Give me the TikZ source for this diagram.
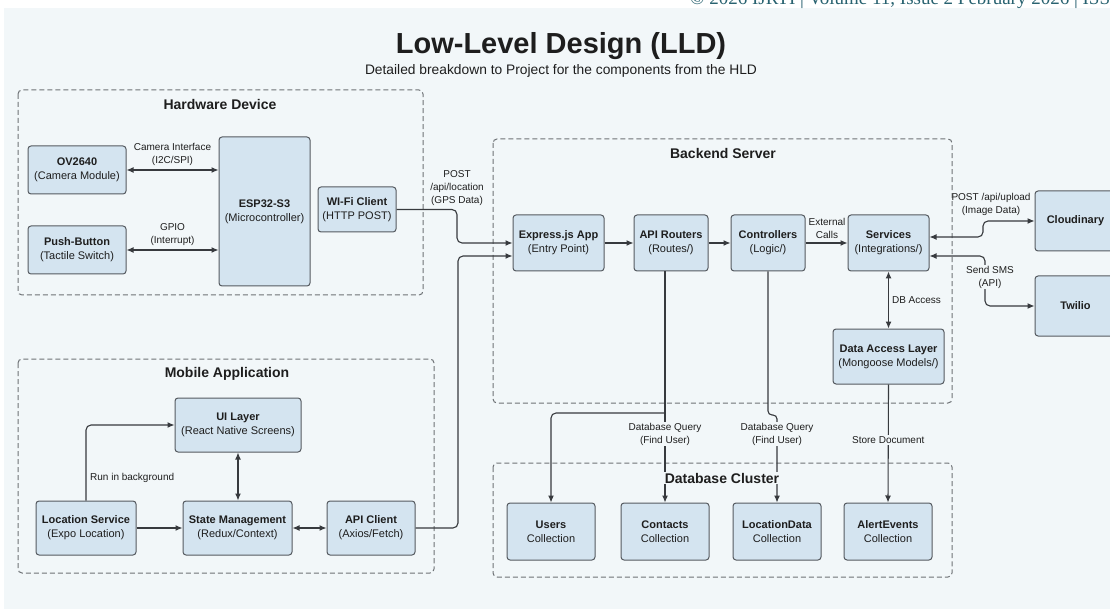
\documentclass[tikz,border=0pt]{standalone}
\usepackage{fontspec}
\setmainfont{Liberation Sans}
\newfontfamily\hdrfont{Liberation Serif}
\usetikzlibrary{arrows.meta}
\definecolor{pagebg}{RGB}{242,247,249}
\definecolor{boxfill}{RGB}{212,228,240}
\definecolor{boxline}{RGB}{85,90,96}
\definecolor{grpline}{RGB}{110,114,118}
\definecolor{wire}{RGB}{55,58,62}
\definecolor{txt}{RGB}{30,30,30}
\definecolor{hdrteal}{RGB}{40,98,112}

\begin{document}
\begin{tikzpicture}[x=1pt, y=-1pt, >={Latex[length=7pt,width=6pt]},
    comp/.style={draw=boxline, fill=boxfill, rounded corners=3pt, line width=1pt, align=center, text=txt, font=\fontsize{11}{14}\selectfont, inner sep=2pt},
    grp/.style={draw=grpline, dash pattern=on 5pt off 3pt, line width=1pt, rounded corners=4pt},
    grptitle/.style={font=\fontsize{14}{16}\selectfont\bfseries, text=txt, fill=pagebg, inner sep=1pt},
    flow/.style={draw=wire, line width=1.1pt, ->},
    twoway/.style={draw=wire, line width=1.1pt, <->},
    elabel/.style={font=\fontsize{10}{13}\selectfont, text=txt, align=center, inner sep=1pt}]
	\useasboundingbox (0,0) rectangle (1110,609);
	\fill[white] (0,0) rectangle (1110,609);
	\fill[pagebg] (4,8) rectangle (1110,609);
	
	\node[anchor=base west, inner sep=0pt, text=hdrteal, font=\hdrfont\fontsize{19}{21}\selectfont] (hdr) at (690,5) {© 2026 IJRTI | Volume 11, Issue 2 February 2026 | ISSN};
	\node[text=txt, font=\fontsize{29}{33}\selectfont\bfseries] (title) at (561,46) {Low-Level Design (LLD)};
	\node[text=txt, font=\fontsize{13.8}{16}\selectfont] (subtitle) at (561,71) {Detailed breakdown to Project for the components from the HLD};
	
	% containers
	\draw[grp] (18,90) rectangle (423,295);
	\draw[grp] (493,139) rectangle (952,403);
	\draw[grp] (18,359) rectangle (434,573);
	\draw[grp] (493,463) rectangle (952,577);
	
	% hardware device
	\node[comp, minimum width=98pt, minimum height=48pt] (ov) at (77,170) {\textbf{OV2640}\\(Camera Module)};
	\node[comp, minimum width=98pt, minimum height=48pt] (btn) at (77,250) {\textbf{Push-Button}\\(Tactile Switch)};
	\node[comp, minimum width=91pt, minimum height=149pt] (esp) at (264.5,211.5) {\textbf{ESP32-S3}\\(Microcontroller)};
	\node[comp, minimum width=78pt, minimum height=45pt] (wifi) at (357,209.5) {\textbf{WI-Fi Client}\\(HTTP POST)};
	
	% backend server
	\node[comp, minimum width=91pt, minimum height=56pt] (express) at (558.5,243) {\textbf{Express.js App}\\(Entry Point)};
	\node[comp, minimum width=74pt, minimum height=56pt] (routers) at (671,243) {\textbf{API Routers}\\(Routes/)};
	\node[comp, minimum width=74pt, minimum height=56pt] (ctrl) at (768,243) {\textbf{Controllers}\\(Logic/)};
	\node[comp, minimum width=81pt, minimum height=56pt] (services) at (888.5,243) {\textbf{Services}\\(Integrations/)};
	\node[comp, minimum width=111pt, minimum height=55pt] (dal) at (888.5,356.5) {\textbf{Data Access Layer}\\(Mongoose Models/)};
	
	% external services
	\node[comp, minimum width=81pt, minimum height=60pt] (cloud) at (1075.5,221) {\textbf{Cloudinary}};
	\node[comp, minimum width=81pt, minimum height=60pt] (twilio) at (1075.5,306) {\textbf{Twilio}};
	
	% mobile application
	\node[comp, minimum width=126pt, minimum height=54pt] (ui) at (238,425) {\textbf{UI Layer}\\(React Native Screens)};
	\node[comp, minimum width=100pt, minimum height=54pt] (loc) at (86,528) {\textbf{Location Service}\\(Expo Location)};
	\node[comp, minimum width=109pt, minimum height=54pt] (state) at (237.5,528) {\textbf{State Management}\\(Redux/Context)};
	\node[comp, minimum width=88pt, minimum height=54pt] (apic) at (371,528) {\textbf{API Client}\\(Axios/Fetch)};
	
	% database cluster
	\node[comp, minimum width=88pt, minimum height=57pt] (users) at (551,531.5) {\textbf{Users}\\Collection};
	\node[comp, minimum width=88pt, minimum height=57pt] (contacts) at (665,531.5) {\textbf{Contacts}\\Collection};
	\node[comp, minimum width=88pt, minimum height=57pt] (locdata) at (777,531.5) {\textbf{LocationData}\\Collection};
	\node[comp, minimum width=88pt, minimum height=57pt] (alerts) at (888,531.5) {\textbf{AlertEvents}\\Collection};
	
	% hardware links
	\draw[twoway] (ov.east) -- (ov.east -| esp.west) node[elabel, midway, above=3pt] (camif) {Camera Interface\\(I2C/SPI)};
	\draw[twoway] (btn.east) -- (btn.east -| esp.west) node[elabel, midway, above=3pt] (gpio) {GPIO\\(Interrupt)};
	
	% into the backend
	\coordinate (wbend) at (457,243);
	\coordinate (abend) at (458,256);
	\draw[flow, rounded corners=5pt] (wifi.east) -| (wbend) -- (express.west);
	\draw[flow, rounded corners=5pt] (apic.east) -| (abend) -- (abend -| express.west);
	\node[elabel] (postloc) at (457,188) {POST\\/api/location\\(GPS Data)};
	
	\draw[flow] (express.east) -- (routers.west);
	\draw[flow] (routers.east) -- (ctrl.west);
	\draw[flow] (ctrl.east) -- (services.west);
	\node[elabel] (extcalls) at (827,228) {External\\Calls};
	
	% external calls
	\coordinate (cbend) at (983,221);
	\coordinate (tbend) at (985,306);
	\draw[twoway, rounded corners=5pt] ([yshift=6pt]services.east) -| (cbend) -- (cloud.west);
	\draw[twoway, rounded corners=5pt] ([yshift=-13pt]services.east) -| (tbend) -- (twilio.west);
	\node[elabel] (upload) at (991,204) {POST /api/upload\\(Image Data)};
	\node[elabel, fill=pagebg] (sms) at (990,277) {Send SMS\\(API)};
	
	\draw[twoway] (services.south) -- (dal.north) node[elabel, midway, right=2pt] (dbacc) {DB Access};
	\draw[flow] (dal.south) -- (alerts.north) node[elabel, fill=pagebg, pos=0.47] (storedoc) {Store Document};
	
	% database queries
	\coordinate (qsplit) at (665,413);
	\coordinate (lbend) at (777,415);
	\draw[flow] (contacts.north |- routers.south) -- (contacts.north);
	\draw[flow, rounded corners=5pt] (qsplit) -| (users.north);
	\draw[flow, rounded corners=4pt] (ctrl.south) |- (lbend) -- (locdata.north);
	\node[elabel, fill=pagebg] (query1) at (665,434) {Database Query\\(Find User)};
	\node[elabel, fill=pagebg] (query2) at (777,434) {Database Query\\(Find User)};
	
	% mobile links
	\draw[flow] (loc.east) -- (state.west);
	\draw[twoway] (ui.south) -- (ui.south |- state.north);
	\draw[twoway] (state.east) -- (apic.west);
	\draw[flow, rounded corners=5pt] (loc.north) |- (ui.west);
	\node[elabel, anchor=west] (runbg) at (89,478) {Run in background};
	
	% container titles
	\node[grptitle] (hwtitle) at (220,104) {Hardware Device};
	\node[grptitle] (betitle) at (723,153) {Backend Server};
	\node[grptitle] (mobtitle) at (227,374) {Mobile Application};
	\node[grptitle] (dbtitle) at (722,478) {Database Cluster};
	
\end{tikzpicture}
\end{document}
